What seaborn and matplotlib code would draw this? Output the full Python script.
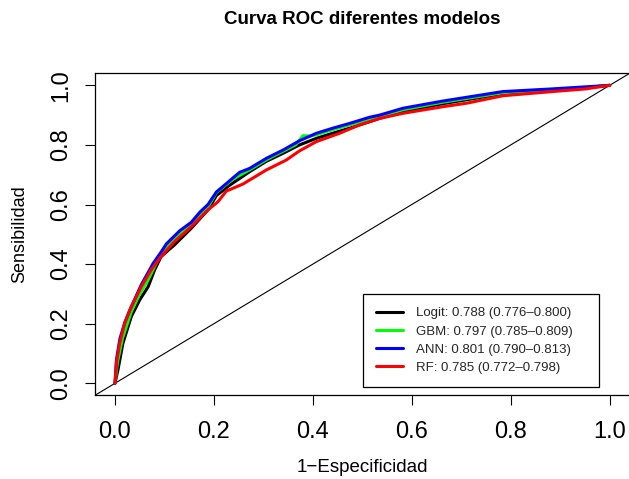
import matplotlib
matplotlib.use("Agg")
import matplotlib.pyplot as plt
import seaborn as sns
import pandas as pd

sns.set_theme(style="white")
plt.rcParams['font.family'] = ['Liberation Sans', 'DejaVu Sans']

# ROC curves (x = 1 - especificidad, y = sensibilidad)
logit_x = [0, 0.006, 0.016, 0.033, 0.050, 0.067, 0.080, 0.093, 0.120, 0.154, 0.188, 0.205, 0.232,
           0.272, 0.306, 0.340, 0.373, 0.407, 0.440, 0.474, 0.535, 0.582, 0.662, 0.784, 0.884, 0.952, 1.0]
logit_y = [0, 0.045, 0.134, 0.224, 0.280, 0.324, 0.380, 0.425, 0.464, 0.520, 0.582, 0.630, 0.665,
           0.710, 0.745, 0.772, 0.800, 0.822, 0.839, 0.856, 0.889, 0.912, 0.938, 0.972, 0.985, 0.992, 1.0]

gbm_x = [0, 0.005, 0.015, 0.033, 0.050, 0.067, 0.093, 0.120, 0.154, 0.188, 0.205, 0.239, 0.272,
         0.306, 0.340, 0.365, 0.380, 0.395, 0.407, 0.440, 0.474, 0.535, 0.582, 0.662, 0.784, 0.884, 0.952, 1.0]
gbm_y = [0, 0.070, 0.150, 0.240, 0.300, 0.347, 0.436, 0.485, 0.530, 0.592, 0.640, 0.686, 0.716,
         0.750, 0.779, 0.800, 0.831, 0.830, 0.834, 0.851, 0.867, 0.895, 0.918, 0.943, 0.975, 0.986, 0.993, 1.0]

ann_x = [0, 0.003, 0.010, 0.020, 0.030, 0.053, 0.077, 0.093, 0.104, 0.131, 0.154, 0.172, 0.188, 0.205,
         0.225, 0.239, 0.252, 0.272, 0.306, 0.340, 0.373, 0.407, 0.440, 0.474, 0.515, 0.535, 0.582,
         0.662, 0.784, 0.884, 0.952, 1.0]
ann_y = [0, 0.080, 0.150, 0.205, 0.246, 0.330, 0.402, 0.440, 0.468, 0.512, 0.540, 0.575, 0.600, 0.642,
         0.670, 0.690, 0.708, 0.721, 0.755, 0.783, 0.814, 0.839, 0.856, 0.872, 0.893, 0.900, 0.923,
         0.947, 0.979, 0.988, 0.995, 1.0]

rf_x = [0, 0.0027, 0.0094, 0.0195, 0.033, 0.053, 0.073, 0.093, 0.120, 0.154, 0.188, 0.208, 0.225,
        0.259, 0.306, 0.346, 0.373, 0.407, 0.454, 0.494, 0.535, 0.582, 0.662, 0.711, 0.784, 0.884, 0.952, 1.0]
rf_y = [0, 0.067, 0.134, 0.201, 0.257, 0.324, 0.380, 0.425, 0.475, 0.525, 0.582, 0.609, 0.645,
        0.669, 0.716, 0.749, 0.780, 0.811, 0.839, 0.867, 0.889, 0.906, 0.928, 0.940, 0.965, 0.979, 0.988, 1.0]

model_labels = ["Logit: 0.788 (0.776\u20130.800)",
                "GBM: 0.797 (0.785\u20130.809)",
                "ANN: 0.801 (0.790\u20130.813)",
                "RF: 0.785 (0.772\u20130.798)"]
model_colors = ["#000000", "#00FF00", "#0000FF", "#FF0000"]

tick_values = [0.0, 0.2, 0.4, 0.6, 0.8, 1.0]
tick_labels = ["0.0", "0.2", "0.4", "0.6", "0.8", "1.0"]

curves = [(logit_x, logit_y), (gbm_x, gbm_y), (ann_x, ann_y), (rf_x, rf_y)]

W, H = 629, 479
L, R, B, T = 95.2, 629.5, 395.2, 73.4
fig = plt.figure(figsize=(W / 100, H / 100), dpi=100)
ax = fig.add_axes([L / W, 1 - B / H, (R - L) / W, (B - T) / H])

# diagonal reference line
ax.axline((0, 0), (1, 1), color="black", lw=0.8, zorder=1)

for (xs, ys), lab, col in zip(curves, model_labels, model_colors):
    df = pd.DataFrame({"x": xs, "y": ys})
    sns.lineplot(data=df, x="x", y="y", sort=False, estimator=None, color=col,
                 lw=2.2, label=lab, ax=ax, zorder=3)

ax.set_xlim(-0.04, 1.04)
ax.set_ylim(-0.04, 1.04)
ax.set_xticks(tick_values)
ax.set_xticklabels(tick_labels)
ax.set_yticks(tick_values)
ax.set_yticklabels(tick_labels, rotation=90, va="center")
ax.tick_params(axis="both", which="both", direction="out", length=7.5, width=0.8,
               color="black", labelsize=17, labelcolor="black", bottom=True, left=True)
ax.tick_params(axis="x", pad=11)
ax.tick_params(axis="y", pad=9)
for s in ax.spines.values():
    s.set_visible(True)
    s.set_color("black")
    s.set_linewidth(0.9)

ax.set_xlabel("1\u2212Especificidad", fontsize=13.5, color="black")
ax.set_ylabel("Sensibilidad", fontsize=13, color="black")
ax.xaxis.set_label_coords(0.5, -(467 - B) / (B - T))
ax.xaxis.label.set_va("center")
ax.yaxis.set_label_coords(-(L - 20) / (R - L), 0.5)
ax.yaxis.label.set_va("center")

fig.text(362 / W, 1 - 20 / H, "Curva ROC diferentes modelos", ha="center", va="center",
         fontsize=13.5, fontweight="bold", color="black")

# legend box: x 363-599, y 294-386 (pixels)
lx0 = (363 - L) / (R - L)
lw_ = (599 - 363) / (R - L)
ly0 = (B - 386) / (B - T)
lh = (386 - 294) / (B - T)
leg = ax.legend(loc="upper left", bbox_to_anchor=(lx0, ly0, lw_, lh), mode="expand",
                fontsize=9.5, frameon=True, fancybox=False, framealpha=1, edgecolor="black",
                handlelength=2.0, handletextpad=1.0, borderpad=1.0, labelspacing=0.45,
                borderaxespad=0)
leg.get_frame().set_linewidth(0.9)

fig.savefig("out.png", dpi=100)
